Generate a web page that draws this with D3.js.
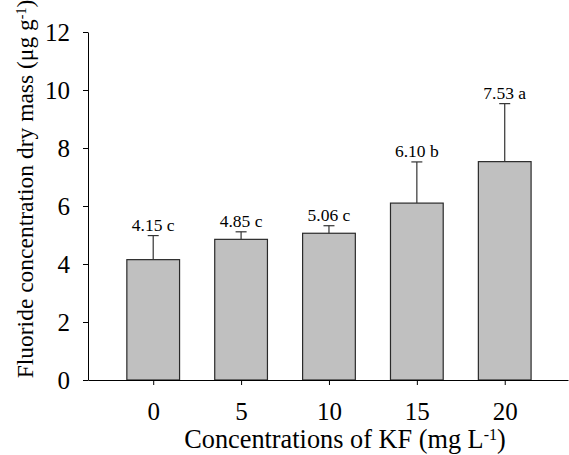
<!DOCTYPE html>
<html>
<head>
<meta charset="utf-8">
<script src="https://cdn.jsdelivr.net/npm/d3@7"></script>
</head>
<body style="margin:0; background:#fff">
<div id="chart"></div>
<script>
// KF concentrations (mg/L), fluoride means, upper error and letter groups
var concentrations = [0, 5, 10, 15, 20];
var meanValues = [4.15, 4.85, 5.06, 6.10, 7.53];
var errorValues = [0.83, 0.26, 0.26, 1.42, 2.00];
var groupLetters = ["c", "c", "c", "b", "a"];
var yTicks = [0, 2, 4, 6, 8, 10, 12];

var serif = "Liberation Serif";

var width = 569, height = 455;
var margin = { top: 32, right: 1, bottom: 75, left: 88 };

var svg = d3.select("#chart")
  .append("svg")
  .attr("width", width)
  .attr("height", height);

var x = d3.scaleLinear()
  .domain([-3.71, 23.6])
  .range([margin.left, width - margin.right]);

var y = d3.scaleLinear()
  .domain([0, 12])
  .range([height - margin.bottom, margin.top]);

var barHalf = 1.5; // bar width in KF units = 3

// bars
svg.selectAll("rect.bar")
  .data(meanValues)
  .enter().append("rect")
  .attr("class", "bar")
  .attr("x", function(d, i) { return x(concentrations[i] - barHalf); })
  .attr("y", function(d) { return y(d); })
  .attr("width", x(barHalf) - x(-barHalf))
  .attr("height", function(d) { return y(0) - y(d); })
  .attr("fill", "#c0c0c0")
  .attr("stroke", "#2a2a2a")
  .attr("stroke-width", 1.2);

// error bars (upper only)
var err = svg.append("g").attr("stroke", "#333").attr("stroke-width", 1.2);
meanValues.forEach(function(d, i) {
  var cx = x(concentrations[i]);
  err.append("line")
    .attr("x1", cx).attr("x2", cx)
    .attr("y1", y(d)).attr("y2", y(d + errorValues[i]));
  err.append("line")
    .attr("x1", cx - 5.5).attr("x2", cx + 5.5)
    .attr("y1", y(d + errorValues[i])).attr("y2", y(d + errorValues[i]));
});

// value labels
svg.selectAll("text.val")
  .data(meanValues)
  .enter().append("text")
  .attr("class", "val")
  .attr("x", function(d, i) { return x(concentrations[i]); })
  .attr("y", function(d, i) { return y(d + errorValues[i]) - 5; })
  .attr("text-anchor", "middle")
  .attr("font-family", serif)
  .attr("font-size", 17.5)
  .text(function(d, i) { return d.toFixed(2) + " " + groupLetters[i]; });

// y axis
var yAxis = svg.append("g")
  .attr("transform", "translate(" + margin.left + ",0)")
  .call(d3.axisLeft(y).tickValues(yTicks).tickSize(5).tickSizeOuter(0).tickPadding(13));
yAxis.attr("font-family", serif).attr("font-size", 25);
yAxis.selectAll("text").attr("fill", "#000");
yAxis.select(".domain").attr("stroke", "#000");

// x axis
var xAxis = svg.append("g")
  .attr("transform", "translate(0," + y(0) + ")")
  .call(d3.axisBottom(x).tickValues(concentrations).tickSize(5).tickSizeOuter(0).tickPadding(17));
xAxis.attr("font-family", serif).attr("font-size", 25);
xAxis.selectAll("text").attr("fill", "#000");
xAxis.select(".domain").attr("stroke", "#000");

// x axis title
var xt = svg.append("text")
  .attr("x", 345)
  .attr("y", 448)
  .attr("text-anchor", "middle")
  .attr("font-family", serif)
  .attr("font-size", 26.3);
xt.append("tspan").text("Concentrations of KF (mg L");
xt.append("tspan").attr("baseline-shift", "super").attr("font-size", 16).text("-1");
xt.append("tspan").text(")");

// y axis title
var yt = svg.append("text")
  .attr("transform", "translate(33,189) rotate(-90)")
  .attr("text-anchor", "middle")
  .attr("font-family", serif)
  .attr("font-size", 23.5);
yt.append("tspan").text("Fluoride concentration dry mass (\u03bcg g");
yt.append("tspan").attr("baseline-shift", "super").attr("font-size", 14).text("-1");
yt.append("tspan").text(")");
</script>
</body>
</html>
